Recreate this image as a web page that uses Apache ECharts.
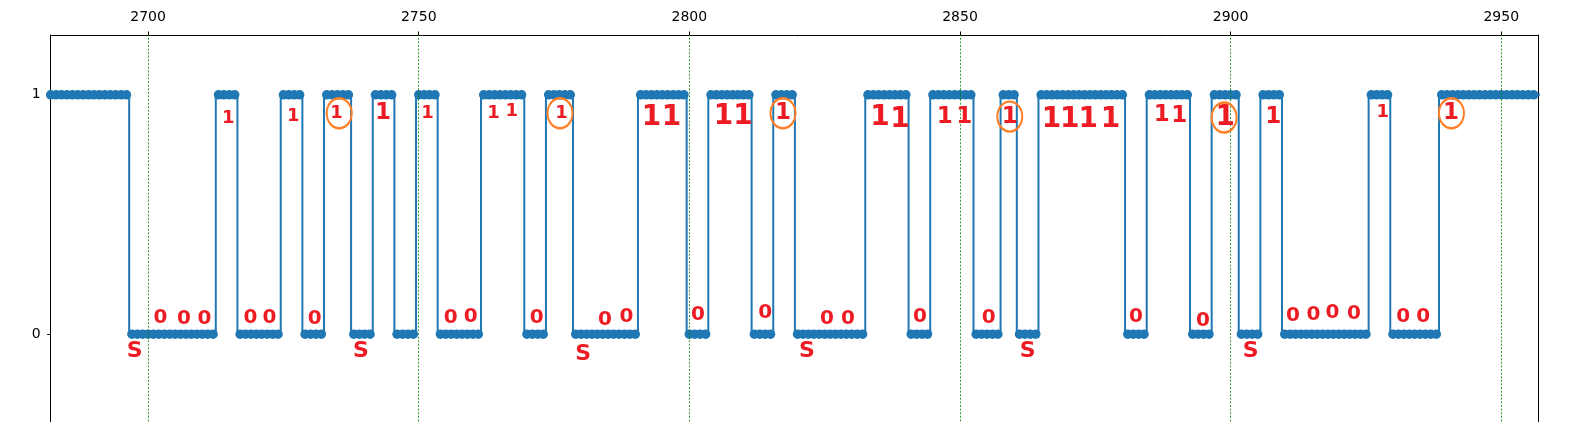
<!DOCTYPE html>
<html><head><meta charset="utf-8">
<script src="https://cdn.jsdelivr.net/npm/echarts@6/dist/echarts.min.js"></script>
<style>html,body{margin:0;padding:0;background:#fff}#c{width:1583px;height:422px}</style>
</head><body><div id="c"></div>
<script>
// ---- data ----
const firstSample = 2680;
const signal = [
  1,1,1,1,1,1,1,1,1,1,1,1,1,1,1,1,1,      // 2680-2696
  0,0,0,0,0,0,0,0,0,0,0,0,0,0,0,0,        // 2697-2712
  1,1,1,1,                                // 2713-2716
  0,0,0,0,0,0,0,0,                        // 2717-2724
  1,1,1,1,                                // 2725-2728
  0,0,0,0,                                // 2729-2732
  1,1,1,1,1,                              // 2733-2737
  0,0,0,0,                                // 2738-2741
  1,1,1,1,                                // 2742-2745
  0,0,0,0,                                // 2746-2749
  1,1,1,1,                                // 2750-2753
  0,0,0,0,0,0,0,0,                        // 2754-2761
  1,1,1,1,1,1,1,1,                        // 2762-2769
  0,0,0,0,                                // 2770-2773
  1,1,1,1,1,                              // 2774-2778
  0,0,0,0,0,0,0,0,0,0,0,0,                // 2779-2790
  1,1,1,1,1,1,1,1,1,                      // 2791-2799
  0,0,0,0,                                // 2800-2803
  1,1,1,1,1,1,1,1,                        // 2804-2811
  0,0,0,0,                                // 2812-2815
  1,1,1,1,                                // 2816-2819
  0,0,0,0,0,0,0,0,0,0,0,0,0,              // 2820-2832
  1,1,1,1,1,1,1,1,                        // 2833-2840
  0,0,0,0,                                // 2841-2844
  1,1,1,1,1,1,1,1,                        // 2845-2852
  0,0,0,0,0,                              // 2853-2857
  1,1,1,                                  // 2858-2860
  0,0,0,0,                                // 2861-2864
  1,1,1,1,1,1,1,1,1,1,1,1,1,1,1,1,        // 2865-2880
  0,0,0,0,                                // 2881-2884
  1,1,1,1,1,1,1,1,                        // 2885-2892
  0,0,0,0,                                // 2893-2896
  1,1,1,1,1,                              // 2897-2901
  0,0,0,0,                                // 2902-2905
  1,1,1,1,                                // 2906-2909
  0,0,0,0,0,0,0,0,0,0,0,0,0,0,0,0,        // 2910-2925
  1,1,1,1,                                // 2926-2929
  0,0,0,0,0,0,0,0,0,                      // 2930-2938
  1,1,1,1,1,1,1,1,1,1,1,1,1,1,1,1,1,1,1,1 // 2939-2958
];
const xTicks = [2700, 2750, 2800, 2850, 2900, 2950];
const yTicks = [0, 1];

// hand-written annotations (data coordinates)
const onesSmallX = [2714.8, 2726.8, 2734.8, 2751.6, 2763.8, 2767.2, 2776.4, 2928.1];
const onesSmallY = [0.903, 0.909, 0.923, 0.923, 0.923, 0.930, 0.923, 0.926];
const onesMedX = [2743.4, 2817.3, 2847.2, 2850.8, 2859.2, 2887.3, 2890.5, 2907.9, 2940.7];
const onesMedY = [0.923, 0.923, 0.909, 0.909, 0.909, 0.916, 0.912, 0.907, 0.923];
const onesLargeX = [2793.0, 2796.7, 2806.3, 2809.9, 2835.2, 2838.9, 2866.9, 2870.3, 2873.7, 2877.8, 2899.0];
const onesLargeY = [0.903, 0.903, 0.909, 0.909, 0.903, 0.896, 0.896, 0.896, 0.896, 0.896, 0.903];
const zerosX = [2702.3, 2706.6, 2710.4, 2718.9, 2722.4, 2730.8, 2755.9, 2759.6, 2771.8, 2784.4, 2788.4, 2801.6, 2814.0, 2825.4, 2829.3, 2842.6, 2855.3, 2882.5, 2894.9, 2911.5, 2915.3, 2918.8, 2922.8, 2931.9, 2935.6];
const zerosY = [0.067, 0.063, 0.063, 0.067, 0.067, 0.063, 0.067, 0.071, 0.067, 0.060, 0.071, 0.081, 0.088, 0.063, 0.063, 0.071, 0.067, 0.071, 0.057, 0.077, 0.081, 0.088, 0.084, 0.071, 0.071];
const startX = [2697.5, 2739.3, 2780.4, 2821.7, 2862.5, 2903.7];
const startY = [-0.073, -0.073, -0.086, -0.073, -0.073, -0.073];
const circleX = [2735.3, 2776.1, 2817.3, 2859.2, 2898.8, 2940.8];
const circleY = [0.923, 0.923, 0.923, 0.909, 0.905, 0.923];

// ---- chart ----
const pairs = (xs, ys) => xs.map((x, i) => [x, ys[i]]);
const RED = '#ed1c24', ORANGE = '#ff7f27', BLUE = '#1f77b4';
function textSeries(xs, ys, txt, size) {
  return {
    type: 'scatter', data: pairs(xs, ys), symbolSize: 1, z: 10,
    itemStyle: { color: 'rgba(0,0,0,0)', opacity: 1 }, silent: true,
    label: { show: true, position: 'inside', formatter: txt, color: RED, opacity: 1,
      fontFamily: 'DejaVu Sans', fontWeight: 'bold', fontSize: size }
  };
}
const chart = echarts.init(document.getElementById('c'), null, { renderer: 'canvas' });
const axisBlack = { show: true, onZero: false, lineStyle: { color: '#000', width: 1 } };
chart.setOption({
  animation: false,
  backgroundColor: '#fff',
  grid: { left: 50.7, top: 35, width: 1487.6, height: 418.8, outerBoundsMode: 'none', containLabel: false, show: false },
  xAxis: {
    type: 'value', position: 'top', min: 2682, max: 2956.85,
    axisLine: axisBlack, splitLine: { show: false },
    axisTick: { show: true, length: 3.5, customValues: xTicks, lineStyle: { color: '#000', width: 1 } },
    axisLabel: { customValues: xTicks, margin: 11, color: '#000', fontSize: 14, fontFamily: 'DejaVu Sans',
      formatter: v => String(v) }
  },
  yAxis: [{
    type: 'value', min: -0.5, max: 1.25,
    axisLine: axisBlack, splitLine: { show: false },
    axisTick: { show: true, length: 3.5, customValues: yTicks, lineStyle: { color: '#000', width: 1 } },
    axisLabel: { customValues: yTicks, margin: 10, color: '#000', fontSize: 14, fontFamily: 'DejaVu Sans',
      formatter: v => String(v) }
  }, {
    type: 'value', position: 'right', min: -0.5, max: 1.25,
    axisLine: axisBlack, axisTick: { show: false }, axisLabel: { show: false }, splitLine: { show: false }
  }],
  series: [
    {
      type: 'line', data: [], z: 1, silent: true,
      markLine: {
        silent: true, symbol: ['none', 'none'], label: { show: false },
        lineStyle: { color: '#008000', width: 0.8, type: [2, 1.6] },
        data: xTicks.map(v => ({ xAxis: v }))
      }
    },
    {
      type: 'line', step: 'middle', z: 3, clip: true,
      data: signal.map((v, i) => [firstSample + i, v]),
      symbol: 'circle', symbolSize: 9.5, showAllSymbol: true,
      lineStyle: { color: BLUE, width: 2 },
      itemStyle: { color: BLUE, opacity: 1 }
    },
    textSeries(onesSmallX, onesSmallY, '1', 18),
    textSeries(onesMedX, onesMedY, '1', 23),
    textSeries(onesLargeX, onesLargeY, '1', 28),
    textSeries(zerosX, zerosY, '0', 20),
    textSeries(startX, startY, 'S', 22),
    {
      type: 'scatter', data: pairs(circleX, circleY), z: 11, silent: true,
      symbol: 'circle', symbolSize: [25, 30],
      itemStyle: { color: 'rgba(0,0,0,0)', borderColor: ORANGE, borderWidth: 2.2, opacity: 1 }
    }
  ]
});
</script>
</body></html>
